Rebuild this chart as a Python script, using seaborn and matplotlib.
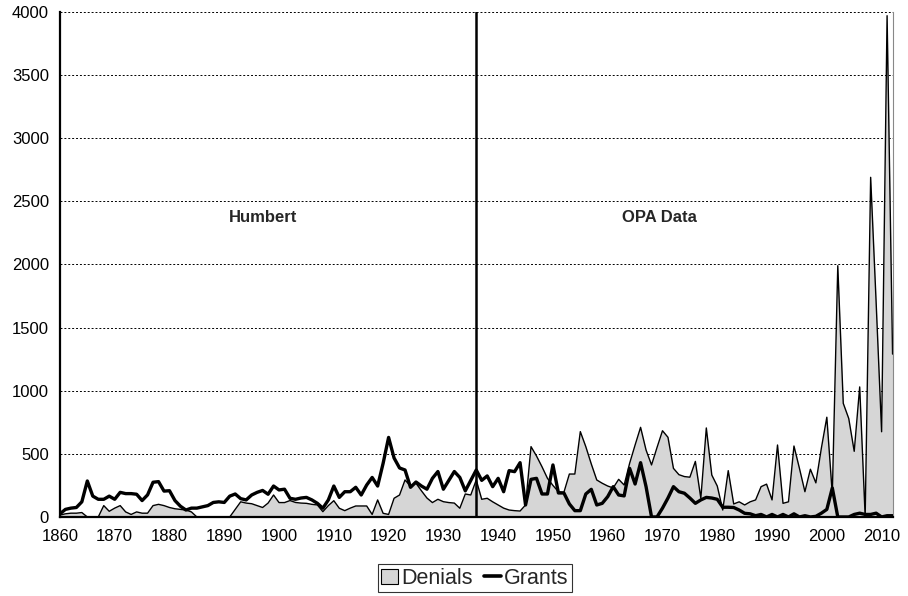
import numpy as np
import pandas as pd
import matplotlib
matplotlib.use("Agg")
import matplotlib.pyplot as plt
import seaborn as sns
from matplotlib.patches import Patch
from matplotlib.lines import Line2D

years = list(range(1860, 2013))

denials = [
    15, 25, 30, 30, 35, 0, 0, 0, 90, 45,            # 1860-1869
    70, 90, 40, 20, 40, 30, 30, 90, 100, 90,        # 1870-1879
    75, 65, 60, 55, 40, 0, 0, 0, 0, 0,              # 1880-1889
    0, 0, 60, 120, 110, 105, 90, 75, 110, 174,      # 1890-1899
    114, 114, 130, 115, 110, 108, 100, 95, 42, 90,  # 1900-1909
    129, 69, 50, 70, 87, 87, 87, 20, 135, 29,       # 1910-1919
    20, 148, 174, 293, 245, 267, 207, 150, 114, 140,  # 1920-1929
    121, 114, 110, 69, 182, 174, 293, 140, 148, 120,  # 1930-1939
    95, 70, 55, 50, 47, 95, 557, 483, 398, 306,     # 1940-1949
    250, 200, 195, 340, 340, 676, 557, 420, 293, 267,  # 1950-1959
    245, 230, 298, 253, 425, 570, 710, 530, 412, 550,  # 1960-1969
    683, 631, 385, 335, 320, 315, 440, 148, 705, 332,  # 1970-1979
    245, 55, 367, 103, 120, 95, 120, 135, 240, 260,    # 1980-1989
    135, 570, 108, 120, 562, 385, 200, 378, 270, 544,  # 1990-1999
    790, 180, 1990, 900, 780, 520, 1030, 0, 2690, 1700,  # 2000-2009
    675, 3970, 1290,                                 # 2010-2012
]

grants = [
    25, 60, 70, 75, 120, 285, 165, 140, 140, 165,      # 1860-1869
    140, 195, 185, 185, 180, 130, 175, 275, 280, 205,  # 1870-1879
    208, 130, 85, 55, 70, 70, 80, 90, 115, 120,        # 1880-1889
    115, 165, 182, 145, 135, 174, 195, 210, 180, 245,  # 1890-1899
    214, 220, 148, 140, 150, 155, 135, 108, 69, 135,   # 1900-1909
    245, 155, 200, 200, 235, 174, 253, 313, 245, 425,  # 1910-1919
    630, 467, 388, 372, 235, 277, 245, 220, 306, 360,  # 1920-1929
    220, 290, 360, 313, 207, 290, 372, 290, 325, 240,  # 1930-1939
    306, 200, 367, 359, 430, 95, 298, 306, 182, 182,   # 1940-1949
    412, 190, 190, 103, 50, 50, 182, 219, 95, 108,     # 1950-1959
    161, 240, 174, 167, 385, 261, 430, 240, 0, 0,      # 1960-1969
    70, 150, 240, 200, 188, 150, 108, 135, 155, 150,   # 1970-1979
    140, 77, 77, 75, 55, 29, 25, 10, 20, 0,            # 1980-1989
    20, 0, 20, 0, 25, 0, 10, 0, 5, 30,                 # 1990-1999
    60, 230, 0, 0, 0, 20, 30, 20, 20, 30,              # 2000-2009
    0, 10, 10,                                         # 2010-2012
]

split_year = 1936
y_ticks = list(range(0, 4001, 500))
x_ticks = list(range(1860, 2011, 10))

df = pd.DataFrame({"year": years, "Denials": denials, "Grants": grants})

sns.set_style("white")
plt.rcParams["font.family"] = ["Liberation Sans Narrow", "Liberation Sans", "DejaVu Sans"]

fig = plt.figure(figsize=(9.08, 5.96), dpi=100)
ax = fig.add_axes([0.066, 0.1326, 0.917, 0.8474])

ax.fill_between(df["year"], df["Denials"], color="#d6d6d6", lw=0, zorder=1)
sns.lineplot(data=df, x="year", y="Denials", color="black", lw=1.0, ax=ax, zorder=2)
sns.lineplot(data=df, x="year", y="Grants", color="black", lw=2.4, ax=ax, zorder=3)

ax.axvline(split_year, color="black", lw=1.8, zorder=4)

ax.set_xlim(1860, 2012)
ax.set_ylim(0, 4000)
ax.set_yticks(y_ticks)
ax.set_xticks(x_ticks)
ax.yaxis.grid(True, color="black", ls=(0, (2, 2)), lw=0.7)
ax.set_axisbelow(True)
ax.tick_params(axis="both", length=0, labelsize=12, colors="black")
ax.tick_params(axis="x", pad=9)
ax.tick_params(axis="y", pad=8)
ax.set_xlabel("")
ax.set_ylabel("")

for side in ["left", "bottom"]:
    ax.spines[side].set_color("black")
    ax.spines[side].set_linewidth(1.6)
ax.spines["top"].set_visible(False)
ax.spines["right"].set_color("#888888")
ax.spines["right"].set_linewidth(0.8)

ax.text(1897, 2370, "Humbert", fontsize=12, fontweight="bold",
        family=["Liberation Sans", "DejaVu Sans"], ha="center", va="center")
ax.text(1969.5, 2370, "OPA Data", fontsize=12, fontweight="bold",
        family=["Liberation Sans", "DejaVu Sans"], ha="center", va="center")

handles = [
    Patch(facecolor="#d6d6d6", edgecolor="black", lw=0.8, label="Denials"),
    Line2D([0], [0], color="black", lw=2.6, label="Grants"),
]
leg = fig.legend(handles=handles, loc="center", bbox_to_anchor=(0.523, 0.03),
                 ncol=2, frameon=True, fontsize=15.5, handlelength=0.8,
                 handletextpad=0.15, columnspacing=0.5, borderpad=0.15,
                 fancybox=False, edgecolor="black")
leg.get_frame().set_linewidth(0.8)

fig.savefig("out.png", dpi=100)
